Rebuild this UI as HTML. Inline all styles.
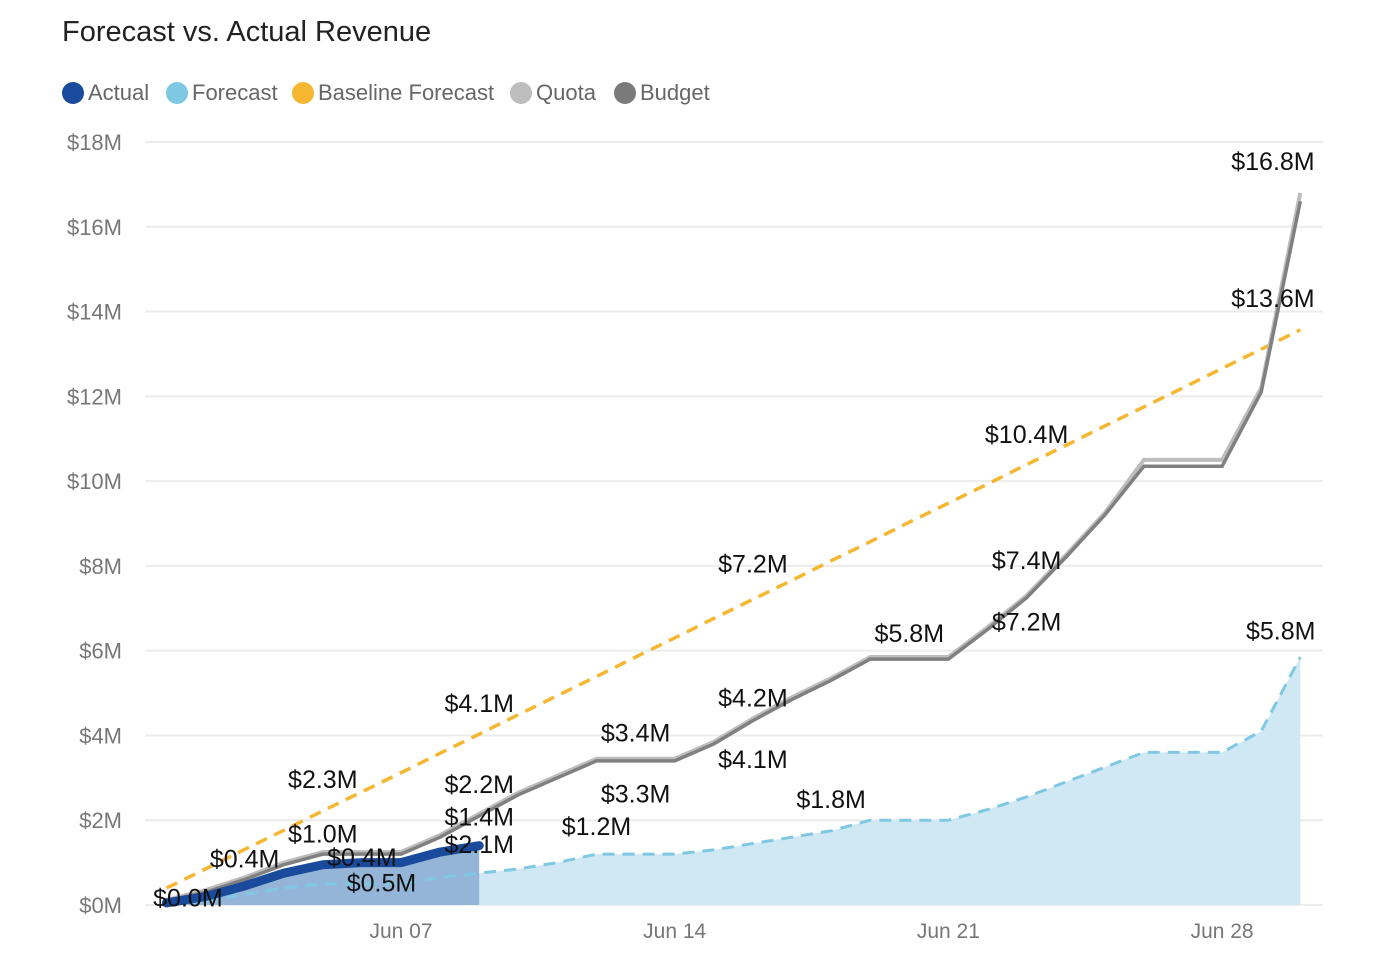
<!DOCTYPE html>
<html><head><meta charset="utf-8">
<style>
body{margin:0;background:#fff;width:1396px;height:971px;overflow:hidden;font-family:"Liberation Sans",sans-serif}
#title{position:absolute;left:62px;top:16px;font-size:29px;color:#222}
.leg{position:absolute;top:80px;font-size:22px;color:#666;display:flex;align-items:center}
.dot{width:22px;height:22px;border-radius:50%;margin-right:4px}
</style></head><body>
<div id="title">Forecast vs. Actual Revenue</div>
<div class="leg" style="left:62px"><span class="dot" style="background:#1a4a9c"></span>Actual</div>
<div class="leg" style="left:166px"><span class="dot" style="background:#7ec8e3"></span>Forecast</div>
<div class="leg" style="left:292px"><span class="dot" style="background:#f5b731"></span>Baseline Forecast</div>
<div class="leg" style="left:510px"><span class="dot" style="background:#bdbdbd"></span>Quota</div>
<div class="leg" style="left:614px"><span class="dot" style="background:#7a7a7a"></span>Budget</div>
<svg id="chart" width="1396" height="971" style="position:absolute;left:0;top:0"></svg>
<script>
const days=[0,1,2,3,4,5,6,7,8,9,10,11,12,13,14,15,16,17,18,19,20,21,22,23,24,25,26,27,28,29];
const yTicks=[0,2,4,6,8,10,12,14,16,18];
const xTickDays=[6,13,20,27];
const xTickLabels=["Jun 07","Jun 14","Jun 21","Jun 28"];
const budget=[0.1,0.3,0.6,0.95,1.2,1.2,1.2,1.6,2.1,2.6,3.0,3.4,3.4,3.4,3.8,4.35,4.85,5.3,5.8,5.8,5.8,6.5,7.25,8.2,9.2,10.35,10.35,10.35,12.1,16.6];
const quota=[0.12,0.35,0.65,1.0,1.25,1.25,1.25,1.65,2.15,2.65,3.05,3.45,3.45,3.45,3.85,4.4,4.9,5.35,5.85,5.85,5.85,6.55,7.3,8.25,9.25,10.5,10.5,10.5,12.2,16.8];
const baseline=[0.4,0.85,1.31,1.76,2.22,2.67,3.12,3.58,4.03,4.49,4.94,5.39,5.85,6.3,6.76,7.21,7.66,8.12,8.57,9.03,9.48,9.93,10.39,10.84,11.3,11.75,12.2,12.66,13.11,13.57];
const actual=[0.05,0.2,0.45,0.75,0.95,1.0,1.0,1.25,1.4];
const forecast=[0,0.1,0.25,0.4,0.5,0.5,0.5,0.65,0.75,0.85,1.0,1.2,1.2,1.2,1.3,1.45,1.6,1.75,2.0,2.0,2.0,2.25,2.55,2.9,3.25,3.6,3.6,3.6,4.1,5.85];
const labelTexts=["$0.0M","$0.4M","$1.0M","$0.4M","$0.5M","$2.3M","$4.1M","$2.2M","$1.4M","$2.1M","$3.4M","$3.3M","$1.2M","$7.2M","$4.2M","$4.1M","$1.8M","$5.8M","$10.4M","$7.4M","$7.2M","$16.8M","$13.6M","$5.8M"];
const labelDays=[0.55,2,4,5,5.5,4,8,8,8,8,12,12,11,15,15,15,17,19,22,22,22,28.3,28.3,28.5];
const labelVals=[-0.03,0.88,1.48,0.92,0.32,2.76,4.55,2.64,1.87,1.23,3.86,2.42,1.65,7.84,4.68,3.23,2.29,6.2,10.9,7.93,6.47,17.34,14.11,6.26];
const svg=document.getElementById('chart');const NS='http://www.w3.org/2000/svg';
const X=d=>166.4+d*39.1;const Y=v=>905-v*42.39;
function mk(t,a,p){const e=document.createElementNS(NS,t);for(const k in a)e.setAttribute(k,a[k]);(p||svg).appendChild(e);return e;}
yTicks.forEach(v=>{
 const g=mk('line',{x1:145,x2:1323,y1:Y(v),y2:Y(v),stroke:'#ececec','stroke-width':2});
 
 
 const t=mk('text',{x:122,y:Y(v)+8,'text-anchor':'end','font-size':22,fill:'#777'});t.textContent='$'+v+'M';
 
 
});
xTickDays.forEach((d,i)=>{const t=mk('text',{x:X(d),y:938,'text-anchor':'middle','font-size':21,fill:'#777'});t.textContent=xTickLabels[i];
 
 });
const pts=(arr)=>arr.map((v,i)=>X(days[i])+','+Y(v)).join(' ');
const fa=mk('polygon',{points:X(0)+','+Y(0)+' '+pts(forecast)+' '+X(29)+','+Y(0),fill:'#d0e8f4'});


const aa=mk('polygon',{points:X(0)+','+Y(0)+' '+pts(actual)+' '+X(8)+','+Y(0),fill:'#95b5d8'});


const fl=mk('polyline',{points:pts(forecast),fill:'none',stroke:'#7ec8e3','stroke-width':3,'stroke-dasharray':'12 8'});


const bl=mk('polyline',{points:pts(baseline),fill:'none',stroke:'#f5b731','stroke-width':3.5,'stroke-dasharray':'12 8'});


const ql=mk('polyline',{points:pts(quota),fill:'none',stroke:'#bdbdbd','stroke-width':4});


const bu=mk('polyline',{points:pts(budget),fill:'none',stroke:'#808080','stroke-width':3.5});


const al=mk('polyline',{points:pts(actual),fill:'none',stroke:'#1a4a9c','stroke-width':9,'stroke-linejoin':'round','stroke-linecap':'round'});


labelTexts.forEach((s,i)=>{const t=mk('text',{x:X(labelDays[i]),y:Y(labelVals[i]),'text-anchor':'middle','font-size':25,fill:'#111'});t.textContent=s;
 
 });
</script>
</body></html>
